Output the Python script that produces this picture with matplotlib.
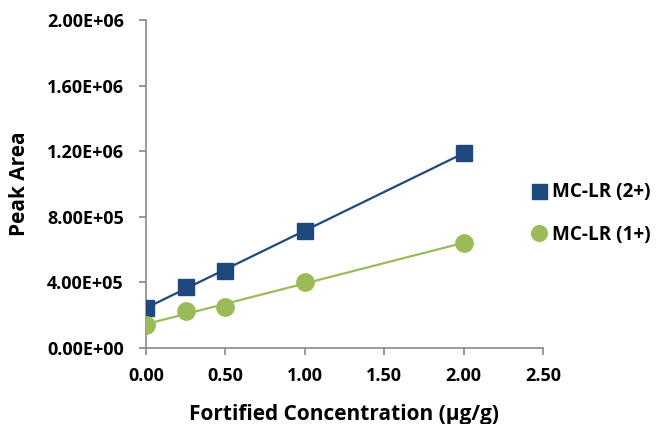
import numpy as np
import matplotlib
matplotlib.use("Agg")
from matplotlib import pyplot as plt

plt.rcParams['font.family'] = ['Open Sans', 'DejaVu Sans']
plt.rcParams['font.weight'] = 'bold'

conc = [0.0, 0.25, 0.5, 1.0, 2.0]
area_2plus = [244000, 372000, 470000, 713000, 1190000]
area_1plus = [140000, 226000, 250000, 402000, 640000]
xticks = [0.0, 0.5, 1.0, 1.5, 2.0, 2.5]
yticks = [0, 400000, 800000, 1200000, 1600000, 2000000]

fig = plt.figure(figsize=(6.56, 4.24), dpi=100)
ax = fig.add_axes([0.2226, 0.1792, 0.6051, 0.7736])

blue = '#1F497D'
green = '#9BBB59'

# linear trendlines
xs = np.array([min(conc), max(conc)])
for y, c in [(area_2plus, blue), (area_1plus, green)]:
    m, b = np.polyfit(conc, y, 1)
    ax.plot(xs, m * xs + b, color=c, lw=1.6, zorder=2)

ax.plot(conc, area_2plus, 's', color=blue, ms=12, label='MC-LR (2+)', zorder=3)
ax.plot(conc, area_1plus, 'o', color=green, ms=12.5, label='MC-LR (1+)', zorder=3)

ax.set_xlim(0, 2.5)
ax.set_ylim(0, 2000000)
ax.set_xticks(xticks)
ax.set_yticks(yticks)
ax.set_xticklabels([f'{v:.2f}' for v in xticks])
ax.set_yticklabels([f'{v:.2E}' for v in yticks])
ax.tick_params(labelsize=13, length=5, color='#888888', width=1.2)
ax.tick_params(axis='y', pad=11)
ax.tick_params(axis='x', pad=9)
for s in ['top', 'right']:
    ax.spines[s].set_visible(False)
for s in ['left', 'bottom']:
    ax.spines[s].set_color('#888888')
    ax.spines[s].set_linewidth(1.2)

ax.set_xlabel('Fortified Concentration (µg/g)', fontsize=15, fontweight='bold', labelpad=13)
ax.set_ylabel('Peak Area', fontsize=15, fontweight='bold', labelpad=12)

leg = fig.legend(loc='center left', bbox_to_anchor=(0.795, 0.496), frameon=False,
                 fontsize=13.6, handlelength=1.1, handletextpad=0.12,
                 labelspacing=1.2, markerscale=0.9, borderaxespad=0)

fig.savefig('out.png', dpi=100)
